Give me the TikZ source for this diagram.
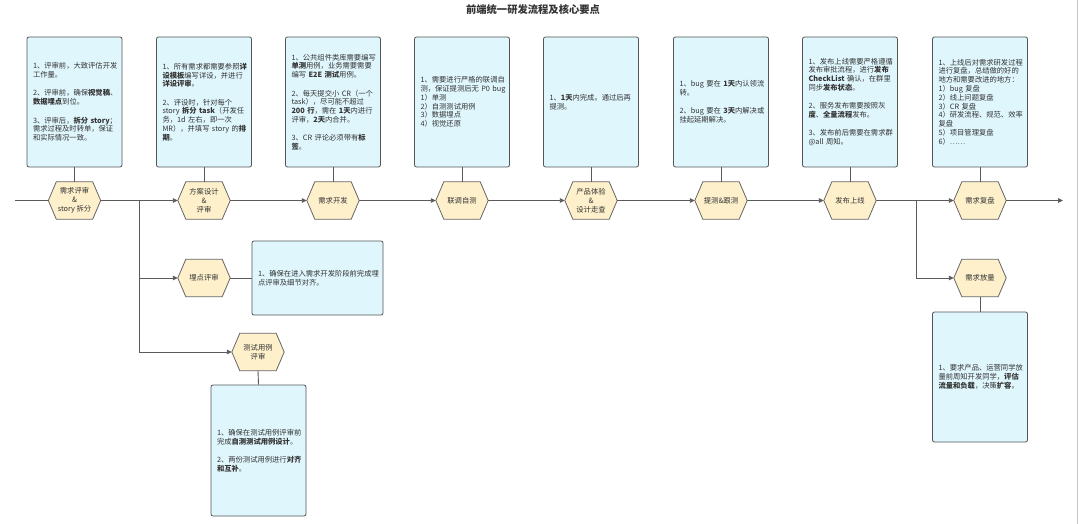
\documentclass[tikz,border=0pt]{standalone}
\usepackage{fontspec}
\setmainfont{Noto Sans CJK SC}
\usetikzlibrary{arrows.meta,backgrounds}
\hyphenpenalty=10000
\exhyphenpenalty=10000
\definecolor{boxfill}{HTML}{DFF6FD}
\definecolor{boxline}{HTML}{555555}
\definecolor{hexfill}{HTML}{FDF0CB}
\definecolor{hexline}{HTML}{666666}
\definecolor{linec}{HTML}{5A5A5A}
\definecolor{txt}{HTML}{333333}
\begin{document}
\begin{tikzpicture}[x=1pt,y=-1pt,
  note/.style={draw=boxline, fill=boxfill, rounded corners=2pt, line width=0.8pt,
    minimum width=95pt, minimum height=130pt, text width=83pt, inner xsep=6pt, inner ysep=0pt,
    align=left, font=\fontsize{7.3}{8.8}\selectfont, text=txt},
  hexn/.style={minimum width=52pt, minimum height=37pt, inner sep=0pt, align=center,
    font=\fontsize{7.3}{9}\selectfont, text=txt},
  hexshape/.style={fill=hexfill, draw=hexline, line width=0.8pt},
  connl/.style={draw=linec, line width=0.9pt},
  arr/.style={connl, -{Triangle[length=5pt,width=4.5pt]}},
]
\useasboundingbox (0,0) rectangle (1080,524);

\node[font=\fontsize{10.3}{12}\selectfont\bfseries, text=txt] (title) at (533,10) {前端统一研发流程及核心要点};

% hexagon nodes
\node[hexn] (h1) at (74.5,200.5) {需求评审\\\&\\story 拆分};
\node[hexn] (h2) at (204,200.5) {方案设计\\\&\\评审};
\node[hexn] (h3) at (333,200.5) {需求开发};
\node[hexn] (h4) at (462,200.5) {联调自测};
\node[hexn] (h5) at (591,200.5) {产品体验\\\&\\设计走查};
\node[hexn] (h6) at (721,200.5) {提测\&跟测};
\node[hexn] (h7) at (850,200.5) {发布上线};
\node[hexn] (h8) at (980,200.5) {需求复盘};
\node[hexn] (hB) at (204,278) {埋点评审};
\node[hexn] (hC) at (258,352) {测试用例\\评审};
\node[hexn] (hR) at (980,278) {需求放量};

% note boxes
\node[note] (b1) at (74.5,102) {1、评审前，大致评估开发\\
工作量。\\[9.5pt]
2、评审前，确保\textbf{视觉稿}、\\
\textbf{数据埋点}到位。\\[9.5pt]
3、评审后，\textbf{拆分~story}；\\
需求过程及时转单，保证\\
和实际情况一致。};

\node[note] (b2) at (204,102) {1、所有需求都需要参照\textbf{详}\\
\textbf{设模板}编写详设，并进行\\
\textbf{详设评审}。\\[9.5pt]
2、评设时，针对每个\\
story~\textbf{拆分~task}（开发任\\
务，1d~左右，即一次\\
MR），并填写~story~的\textbf{排}\\
\textbf{期}。};

\node[note] (b3) at (333,102) {1、公共组件类库需要编写\\
\textbf{单测}用例，业务需要需要\\
编写~\textbf{E2E~测试}用例。\\[9.5pt]
2、每天提交小~CR（一个\\
task），尽可能不超过\\
\textbf{200~行}，需在~\textbf{1天}内进行\\
评审，\textbf{2天}内合并。\\[9.5pt]
3、CR~评论必须带有\textbf{标}\\
\textbf{签}。};

\node[note] (b4) at (462,102) {1、需要进行严格的联调自\\
测，保证提测后无~P0~bug\\
1）单测\\
2）自测测试用例\\
3）数据埋点\\
4）视觉还原};

\node[note] (b5) at (591,102) {1、\textbf{1天}内完成。通过后再\\
提测。};

\node[note] (b6) at (721,102) {1、bug~要在~\textbf{1天}内认领流\\
转。\\[9.5pt]
2、bug~要在~\textbf{3天}内解决或\\
挂起延期解决。};

\node[note] (b7) at (850,102) {1、发布上线需要严格遵循\\
发布审批流程，进行\textbf{发布}\\
\textbf{CheckList}~确认，在群里\\
同步\textbf{发布状态}。\\[9.5pt]
2、服务发布需要按照灰\\
\textbf{度}、\textbf{全量流程}发布。\\[9.5pt]
3、发布前后需要在需求群\\
@all~周知。};

\node[note] (b8) at (980,102) {1、上线后对需求研发过程\\
进行复盘，总结做的好的\\
地方和需要改进的地方：\\
1）bug~复盘\\
2）线上问题复盘\\
3）CR~复盘\\
4）研发流程、规范、效率\\
复盘\\
5）项目管理复盘\\
6）……};

\node[note, minimum width=131pt, minimum height=74pt, text width=119pt] (bB) at (317.5,278)
  {1、确保在进入需求开发阶段前完成埋\\
点评审及细节对齐。};

\node[note, minimum height=131pt] (bC) at (258.5,450.5) {1、确保在测试用例评审前\\
完成\textbf{自测测试用例设计}。\\[9.5pt]
2、两份测试用例进行\textbf{对齐}\\
\textbf{和互补}。};

\node[note] (bR) at (980,377) {1、要求产品、运营同学放\\
量前周知开发同学，\textbf{评估}\\
\textbf{流量和负载}，决策\textbf{扩容}。};

% connectors
\coordinate (start) at (15,200.5);
\coordinate (end) at (1063,200.5);
\coordinate (j1) at (139,200.5);
\coordinate (j2) at (916,200.5);

\draw[connl] (start) -- (h1.west);
\draw[arr] (h1.east) -- (h2.west);
\draw[arr] (h2.east) -- (h3.west);
\draw[arr] (h3.east) -- (h4.west);
\draw[arr] (h4.east) -- (h5.west);
\draw[arr] (h5.east) -- (h6.west);
\draw[arr] (h6.east) -- (h7.west);
\draw[arr] (h7.east) -- (h8.west);
\draw[arr] (h8.east) -- (end);

\draw[arr] (j1) |- (hC.west);
\draw[arr] (j1 |- hB.west) -- (hB.west);
\draw[arr] (j2) |- (hR.west);

\foreach \i in {1,...,8} {\draw[connl] (b\i.south) -- (h\i.north);}
\draw[connl] (hB.east) -- (bB.west);
\draw[connl] (hC.south) -- (bC.north);
\draw[connl] (hR.south) -- (bR.north);

% right frame edge
\draw[gray!45, line width=1pt] (1077.5,0) -- (1077.5,524);

\begin{scope}[on background layer]
  \fill[white] (0,0) rectangle (1080,524);
  \foreach \n in {h1,h2,h3,h4,h5,h6,h7,h8,hB,hC,hR} {
    \filldraw[hexshape] (\n.west) -- ([xshift=8pt]\n.north west) -- ([xshift=-8pt]\n.north east)
      -- (\n.east) -- ([xshift=-8pt]\n.south east) -- ([xshift=8pt]\n.south west) -- cycle;
  }
\end{scope}
\end{tikzpicture}
\end{document}
